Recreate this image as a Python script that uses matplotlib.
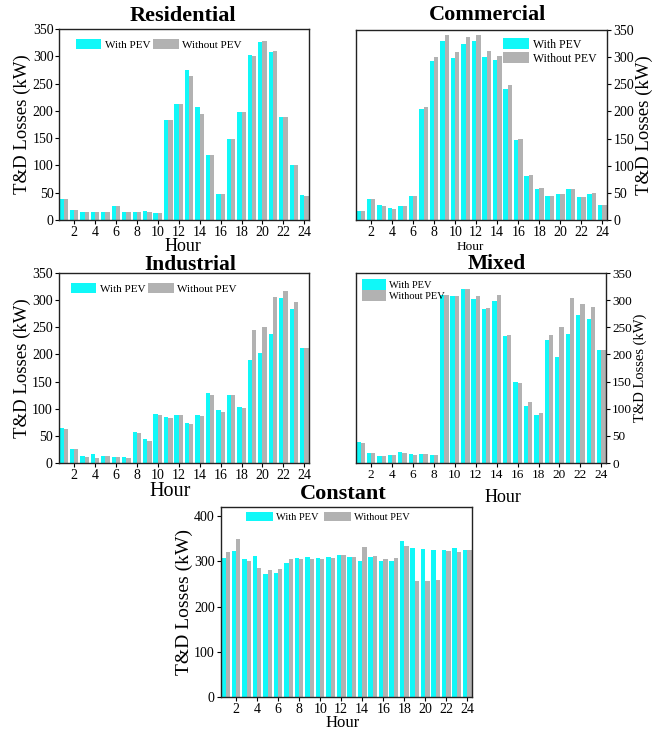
import numpy as np
import matplotlib
matplotlib.use("Agg")
import matplotlib.pyplot as plt

plt.rcParams['font.family'] = ['Liberation Serif', 'DejaVu Serif']

hours = np.arange(1, 25)
xticks = list(range(2, 25, 2))

# Residential
res_with = [38, 18, 15, 15, 15, 25, 15, 15, 16, 13, 184, 213, 275, 207, 119, 48,
            149, 198, 303, 326, 308, 188, 100, 45]
res_without = [38, 18, 15, 15, 15, 25, 15, 15, 15, 12, 184, 213, 264, 195, 119, 48,
               148, 198, 300, 328, 309, 188, 100, 44]

# Commercial
com_with = [16, 38, 27, 22, 26, 45, 204, 292, 329, 298, 324, 329, 300, 294, 241, 148,
            81, 57, 45, 47, 58, 43, 48, 27]
com_without = [16, 38, 25, 21, 26, 45, 208, 301, 340, 309, 338, 340, 312, 303, 248, 149,
               83, 59, 45, 47, 58, 43, 49, 27]

# Industrial
ind_with = [65, 26, 13, 16, 13, 11, 11, 58, 44, 90, 85, 89, 73, 88, 129, 97,
            125, 103, 189, 202, 238, 304, 283, 211]
ind_without = [63, 25, 11, 10, 12, 11, 10, 56, 41, 89, 82, 88, 72, 87, 126, 94,
               125, 101, 245, 250, 306, 317, 297, 211]

# Mixed
mix_with = [38, 19, 13, 15, 20, 16, 16, 15, 310, 307, 320, 302, 284, 299, 234, 149,
            105, 88, 227, 196, 237, 272, 266, 209]
mix_without = [36, 18, 13, 15, 18, 14, 16, 15, 310, 308, 321, 307, 286, 309, 235, 147,
               112, 92, 236, 250, 304, 292, 287, 209]

# Constant
con_with = [308, 322, 304, 311, 273, 275, 297, 308, 310, 308, 310, 313, 310, 301, 309, 300,
            300, 345, 329, 328, 326, 325, 330, 326]
con_without = [321, 350, 300, 285, 280, 283, 305, 304, 305, 305, 308, 313, 310, 332, 311, 306,
               308, 333, 256, 257, 259, 322, 320, 326]

CYAN = '#10F8F8'
GRAY = '#B2B2B2'

W, H = 661, 732
fig = plt.figure(figsize=(W / 100, H / 100), dpi=100)


def px_axes(l, t, r, b):
    return fig.add_axes([l / W, 1 - b / H, (r - l) / W, (b - t) / H])


def px_text(x, y, s, **kw):
    fig.text(x / W, 1 - y / H, s, ha='center', va='center', **kw)


def draw_panel(ax, with_pev, without_pev, ymax, ystep, right=False,
               tick_fs=10, label_fs=13.5, pad=1.5):
    ax.bar(hours - 0.205, with_pev, width=0.41, color=CYAN, label='With PEV')
    ax.bar(hours + 0.205, without_pev, width=0.41, color=GRAY, label='Without PEV')
    ax.set_xlim(0.56, 24.45)
    ax.set_ylim(0, ymax)
    ax.set_xticks(xticks)
    ax.set_yticks(np.arange(0, ymax + 1, ystep))
    ax.tick_params(labelsize=tick_fs, length=3, width=0.8, pad=pad)
    for s in ax.spines.values():
        s.set_linewidth(1.0)
        s.set_color('#222222')
    if right:
        ax.yaxis.tick_right()
        ax.yaxis.set_label_position('right')
    ax.set_ylabel('T&D Losses (kW)', fontsize=label_fs, labelpad=1)


# Residential
ax1 = px_axes(59, 29, 309, 220)
draw_panel(ax1, res_with, res_without, 350, 50, pad=1)
ax1.legend(ncol=2, loc='upper left', bbox_to_anchor=(0.04, 0.98), frameon=False,
           fontsize=8, handlelength=2.3, handleheight=0.9, handletextpad=0.3,
           columnspacing=0.3, borderaxespad=0.2)
px_text(183, 16, 'Residential', fontsize=16, fontweight='bold')
px_text(183, 246, 'Hour', fontsize=13)

# Commercial
ax2 = px_axes(356, 30, 607, 220)
draw_panel(ax2, com_with, com_without, 350, 50, right=True)
ax2.legend(ncol=1, loc='upper right', bbox_to_anchor=(0.985, 0.995), frameon=False,
           fontsize=8.5, handlelength=2.2, handleheight=1.1, handletextpad=0.3,
           labelspacing=0.1, borderaxespad=0.2)
px_text(487, 15, 'Commercial', fontsize=16, fontweight='bold')
px_text(470, 247, 'Hour', fontsize=9.5)

# Industrial
ax3 = px_axes(59, 273, 309, 463)
draw_panel(ax3, ind_with, ind_without, 350, 50)
ax3.legend(ncol=2, loc='upper left', bbox_to_anchor=(0.02, 0.98), frameon=False,
           fontsize=8, handlelength=2.3, handleheight=0.9, handletextpad=0.3,
           columnspacing=0.3, borderaxespad=0.2)
px_text(190, 265, 'Industrial', fontsize=15.5, fontweight='bold')
px_text(170, 492, 'Hour', fontsize=14.5)

# Mixed
ax4 = px_axes(356, 273, 606, 463)
draw_panel(ax4, mix_with, mix_without, 350, 50, right=True, tick_fs=9.5, label_fs=10.5)
ax4.legend(ncol=1, loc='upper left', bbox_to_anchor=(0.0, 1.0), frameon=False,
           fontsize=7.5, handlelength=2.3, handleheight=1.2, handletextpad=0.3,
           labelspacing=0.0, borderaxespad=0.2)
px_text(497, 264, 'Mixed', fontsize=15.5, fontweight='bold')
px_text(503, 498, 'Hour', fontsize=13)

# Constant
ax5 = px_axes(221, 507, 472, 697)
draw_panel(ax5, con_with, con_without, 420, 100, label_fs=14)
ax5.set_yticks(np.arange(0, 401, 100))
ax5.legend(ncol=2, loc='upper left', bbox_to_anchor=(0.08, 1.0), frameon=False,
           fontsize=7.5, handlelength=2.6, handleheight=0.9, handletextpad=0.3,
           columnspacing=0.5, borderaxespad=0.1)
px_text(343, 494, 'Constant', fontsize=16, fontweight='bold')
px_text(343, 723, 'Hour', fontsize=12)

fig.savefig('out.png', dpi=100)
